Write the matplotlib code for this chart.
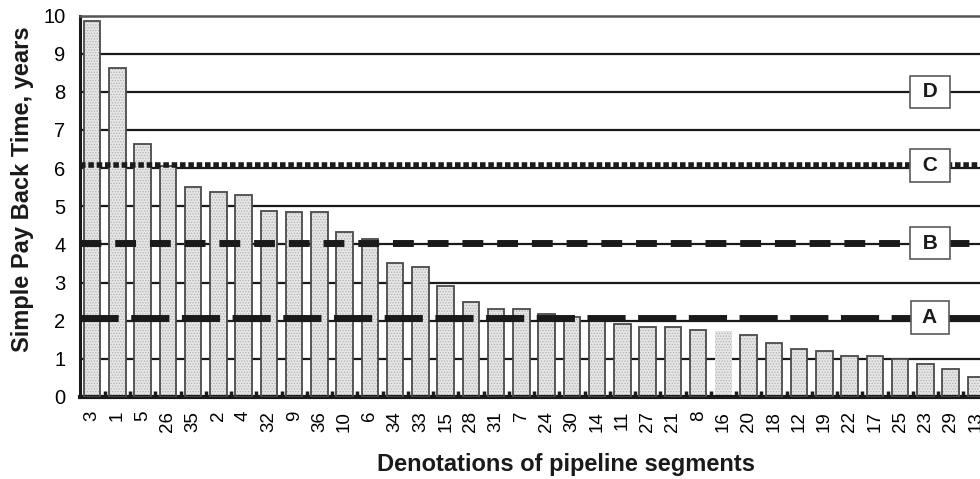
import matplotlib
matplotlib.use("Agg")
import matplotlib.pyplot as plt
import matplotlib.transforms as mtransforms
import numpy as np

plt.rcParams["font.family"] = ["Liberation Sans", "DejaVu Sans"]
plt.rcParams["hatch.linewidth"] = 0.6

# segment denotations, sorted by pay back time
segments = ["3", "1", "5", "26", "35", "2", "4", "32", "9", "36", "10", "6",
            "34", "33", "15", "28", "31", "7", "24", "30", "14", "11", "27", "21",
            "8", "16", "20", "18", "12", "19", "22", "17", "25", "23", "29", "13"]
payback = [9.86, 8.62, 6.62, 6.05, 5.50, 5.38, 5.29, 4.88, 4.84, 4.84, 4.32, 4.15,
           3.50, 3.42, 2.91, 2.49, 2.31, 2.31, 2.18, 2.09, 2.08, 1.92, 1.84, 1.84,
           1.76, 1.73, 1.63, 1.41, 1.25, 1.20, 1.07, 1.07, 0.99, 0.86, 0.74, 0.52]

# threshold levels
level_names = ["A", "B", "C", "D"]
level_values = [2.08, 4.03, 6.07, 8.0]

fig = plt.figure(figsize=(9.8, 4.79), dpi=100)
ax = fig.add_axes([79.5 / 980, 82 / 479, 909 / 980, 381.5 / 479])

x = np.arange(len(segments))

# horizontal grid
for yv in range(1, 10):
    ax.axhline(yv, color="#1a1a1a", lw=1.6, zorder=1)

# bars: hatched stipple fill, then outline
edge = ["none" if s == "16" else "#4a4a4a" for s in segments]
ax.bar(x, payback, width=0.66, color="#e6e6e6", edgecolor="#b0b0b0",
       hatch="......", linewidth=0, zorder=2)
ax.bar(x, payback, width=0.66, facecolor="none", edgecolor=edge,
       linewidth=1.3, zorder=3)

# threshold lines
ax.axhline(level_values[0], color="#1a1a1a", lw=5, dashes=(5.5, 1.8), zorder=4)
ax.axhline(level_values[1], color="#1a1a1a", lw=5, dashes=(3.0, 2.0), zorder=4)
ax.axhline(level_values[2], color="#1a1a1a", lw=4, dashes=(1.0, 0.5), zorder=4)

trans = mtransforms.blended_transform_factory(ax.transAxes, ax.transData)
for name, yv in zip(level_names, level_values):
    ax.text(0.9357, yv, " " + name + " ", transform=trans, ha="center",
            va="center", fontsize=15, fontweight="bold", color="#1a1a1a",
            zorder=6,
            bbox=dict(boxstyle="square,pad=0.32", facecolor="white",
                      edgecolor="#5a5a5a", linewidth=1.2))

ax.set_xlim(-0.5, len(segments) - 0.5)
ax.set_ylim(0, 10)
ax.set_yticks(range(0, 11))
ax.set_xticks(x)
ax.set_xticklabels(segments, rotation=90, fontsize=13.5)
ax.set_xticks(np.arange(len(segments)) + 0.5, minor=True)
ax.tick_params(axis="y", length=0, labelsize=14.5, pad=10)
ax.tick_params(axis="x", which="major", length=0, pad=10)
ax.tick_params(axis="x", which="minor", direction="in", length=4, width=2.5,
               color="#1a1a1a")

ax.spines["left"].set_linewidth(2.2)
ax.spines["bottom"].set_linewidth(3)
ax.spines["top"].set_linewidth(1.8)
ax.spines["top"].set_color("#555555")
ax.spines["right"].set_visible(False)
for s in ["left", "bottom"]:
    ax.spines[s].set_color("#1a1a1a")

fig.text(566 / 980, 1 - 465 / 479, "Denotations of pipeline segments",
         ha="center", va="center", fontsize=17, fontweight="bold", color="#1a1a1a")
fig.text(23 / 980, 1 - 189 / 479, "Simple Pay Back Time, years", rotation=90,
         ha="center", va="center", fontsize=17, fontweight="bold", color="#1a1a1a")

fig.savefig("out.png", dpi=100)
